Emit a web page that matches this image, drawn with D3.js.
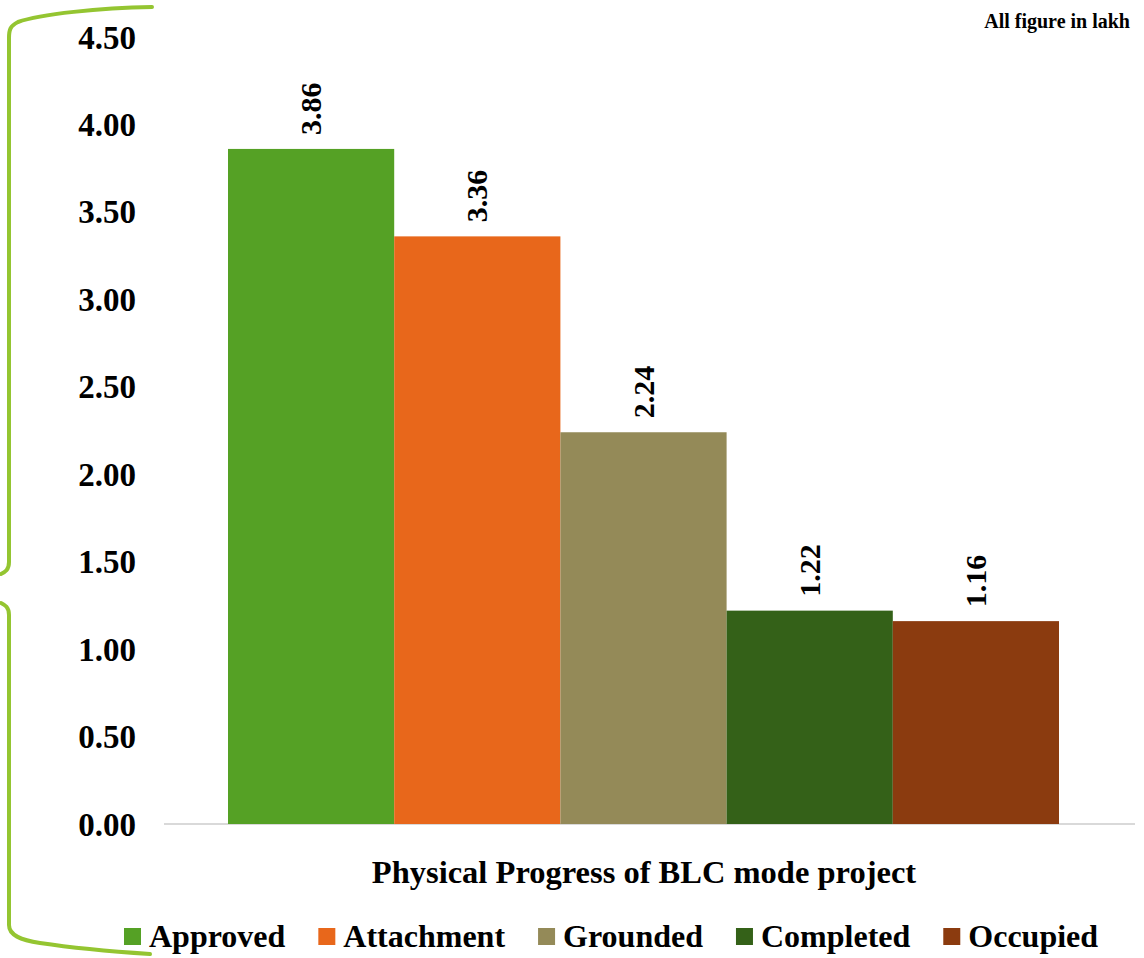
<!DOCTYPE html>
<html><head><meta charset="utf-8">
<script src="https://cdn.jsdelivr.net/npm/d3@7"></script>
<style>body{margin:0;background:#fff}svg{display:block}text{font-family:"Liberation Serif","Times New Roman",serif;font-weight:bold;fill:#000}</style>
</head><body>
<script>
const categories = ["Approved","Attachment","Grounded","Completed","Occupied"];
const values = [3.86, 3.36, 2.24, 1.22, 1.16];
const colors = ["#55A125","#E8671B","#948A58","#346118","#8B3B0F"];
const yTicks = [0,0.5,1,1.5,2,2.5,3,3.5,4,4.5];
const axisTitle = "Physical Progress of BLC mode project";
const note = "All figure in lakh";

const W=1144,H=958;
const svg=d3.select("body").append("svg").attr("width",W).attr("height",H);

const y=d3.scaleLinear().domain([0,4.5]).range([824,37]);
const x=d3.scaleBand().domain(categories).range([228,1059]).padding(0);

// brace
const brace=svg.append("g").attr("fill","none").attr("stroke","#94C531").attr("stroke-width",4).attr("stroke-linecap","round");
brace.append("path").attr("d","M152,7 C100,8 40,14 18,22 C10,26 9,30 9,38 L9,562 C9,570 5,572 1,574");
brace.append("path").attr("d","M1,603 C5,605 9,607 9,615 L9,925 C9,935 20,940 40,943 C80,949 120,952 150,954");

// axis line
svg.append("line").attr("x1",164).attr("x2",1135).attr("y1",y(0)).attr("y2",y(0)).attr("stroke","#D9D9D9").attr("stroke-width",2);

// tick labels
svg.append("g").selectAll("text").data(yTicks).join("text")
  .attr("x",136).attr("y",d=>y(d)).attr("dy","0.35em").attr("text-anchor","end")
  .attr("font-size",33).text(d=>d3.format(".2f")(d));

// bars
svg.append("g").selectAll("rect").data(categories).join("rect")
  .attr("x",d=>x(d)).attr("width",x.bandwidth())
  .attr("y",(d,i)=>y(values[i])).attr("height",(d,i)=>y(0)-y(values[i]))
  .attr("fill",(d,i)=>colors[i]);

// value labels
svg.append("g").selectAll("text").data(categories).join("text")
  .attr("transform",(d,i)=>`translate(${x(d)+x.bandwidth()/2+10},${y(values[i])-14}) rotate(-90)`)
  .attr("text-anchor","start").attr("font-size",30)
  .text((d,i)=>d3.format(".2f")(values[i]));

// axis title
svg.append("text").attr("x",644).attr("y",883).attr("text-anchor","middle").attr("font-size",32.5).text(axisTitle);

// note
svg.append("text").attr("x",1130).attr("y",28).attr("text-anchor","end").attr("font-size",20).text(note);

// legend
const lg=svg.append("g");
let cx=124;
categories.forEach((c,i)=>{
  lg.append("rect").attr("x",cx).attr("y",928).attr("width",17).attr("height",17).attr("fill",colors[i]);
  const t=lg.append("text").attr("x",cx+25).attr("y",947).attr("font-size",32).text(c);
  cx+=25+t.node().getComputedTextLength()+33;
});
</script>
</body></html>
